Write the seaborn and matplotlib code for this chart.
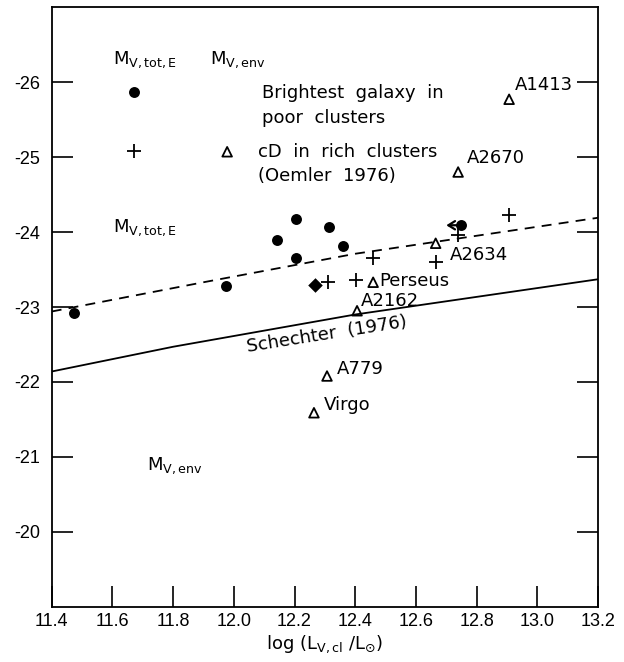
import matplotlib
matplotlib.use("Agg")
import matplotlib.pyplot as plt
import seaborn as sns

# Brightest galaxies in poor clusters (filled circles, M_V,tot,E)
poor_logL = [11.474, 11.973, 12.143, 12.204, 12.204, 12.315, 12.361, 12.748]
poor_M = [-22.92, -23.28, -23.89, -23.65, -24.18, -24.07, -23.82, -24.09]

# Environment magnitudes for poor clusters (plus signs, M_V,env)
env_logL = [12.309, 12.403, 12.459, 12.665, 12.740, 12.908]
env_M = [-23.33, -23.36, -23.65, -23.60, -23.96, -24.23]

# Special object (diamond)
diamond_logL = [12.268]
diamond_M = [-23.29]

# Upper-limit arrow on the brightest poor-cluster galaxy
limit_from = (12.748, -24.09)
limit_to = (12.700, -24.09)

# cD galaxies in rich clusters (Oemler 1976)
cd_names = ["A1413", "A2670", "A2634", "Perseus", "A2162", "A779", "Virgo"]
cd_logL = [12.907, 12.739, 12.665, 12.459, 12.406, 12.307, 12.264]
cd_M = [-25.77, -24.80, -23.85, -23.33, -22.95, -22.08, -21.59]
cd_label_xy = [(12.925, -25.96), (12.768, -24.99), (12.712, -23.69),
               (12.480, -23.35), (12.420, -23.08), (12.340, -22.17),
               (12.295, -21.69)]

# Relations: dashed curve and Schechter (1976)
dashed_logL = [11.4, 11.9, 12.4, 13.2]
dashed_M = [-22.94, -23.33, -23.71, -24.19]
schechter_logL = [11.4, 11.8, 12.4, 13.2]
schechter_M = [-22.14, -22.47, -22.90, -23.37]

x_ticks = [11.4, 11.6, 11.8, 12.0, 12.2, 12.4, 12.6, 12.8, 13.0, 13.2]
x_tick_labels = ["11.4", "11.6", "11.8", "12.0", "12.2", "12.4", "12.6",
                 "12.8", "13.0", "13.2"]
y_ticks = [-26, -25, -24, -23, -22, -21, -20]
y_tick_labels = ["-26", "-25", "-24", "-23", "-22", "-21", "-20"]

sns.set_theme(style="white")
plt.rcParams["font.family"] = ["DejaVu Sans"]
plt.rcParams["mathtext.default"] = "regular"
plt.rcParams["axes.unicode_minus"] = False
for key in ["text.color", "axes.labelcolor", "xtick.color", "ytick.color",
            "axes.edgecolor"]:
    plt.rcParams[key] = "black"

fig = plt.figure(figsize=(6.24, 6.62), dpi=100)
ax = fig.add_axes([0.0829, 0.0831, 0.8755, 0.9063])

# Relations
sns.lineplot(x=dashed_logL, y=dashed_M, color="black", linewidth=1.3,
             linestyle=(0, (5.5, 4)), ax=ax)
sns.lineplot(x=schechter_logL, y=schechter_M, color="black", linewidth=1.3,
             ax=ax)

# Data points
sns.scatterplot(x=poor_logL, y=poor_M, marker="o", s=62, color="black",
                edgecolor="black", linewidth=0, ax=ax, zorder=3)
sns.scatterplot(x=env_logL, y=env_M, marker="+", s=95, color="black",
                linewidth=1.3, ax=ax, zorder=3)
sns.scatterplot(x=diamond_logL, y=diamond_M, marker="D", s=55, color="black",
                edgecolor="black", linewidth=0, ax=ax, zorder=3)
sns.scatterplot(x=cd_logL, y=cd_M, marker="^", s=48, color="black",
                facecolor="none", edgecolor="black", linewidth=1.3, ax=ax,
                zorder=3)

ax.annotate("", xy=limit_to, xytext=limit_from, zorder=4,
            arrowprops=dict(arrowstyle="->,head_length=0.4,head_width=0.25",
                            color="black", lw=1.6, shrinkA=0, shrinkB=0))

for name, (tx, ty) in zip(cd_names, cd_label_xy):
    ax.text(tx, ty, name, fontsize=13, ha="left", va="center")

# Key
txt = dict(fontsize=13, ha="left", va="center")
ax.text(11.602, -26.30, r"M$_{V,tot,E}$", **txt)
ax.text(11.922, -26.30, r"M$_{V,env}$", **txt)
ax.scatter([11.672], [-25.87], marker="o", s=62, color="black", linewidth=0)
ax.scatter([11.672], [-25.08], marker="+", s=95, color="black", linewidth=1.3)
ax.scatter([11.978], [-25.07], marker="^", s=48, facecolor="none",
           edgecolor="black", linewidth=1.3)
ax.text(12.093, -25.85, "Brightest  galaxy  in", **txt)
ax.text(12.093, -25.52, "poor  clusters", **txt)
ax.text(12.080, -25.07, "cD  in  rich  clusters", **txt)
ax.text(12.080, -24.75, "(Oemler  1976)", **txt)
ax.text(11.602, -24.06, r"M$_{V,tot,E}$", **txt)
ax.text(11.714, -20.88, r"M$_{V,env}$", **txt)
ax.text(12.308, -22.63, "Schechter  (1976)", fontsize=13, ha="center",
        va="center", rotation=9, rotation_mode="anchor")

ax.set_xlim(11.4, 13.2)
ax.set_ylim(-19, -27)
ax.set_xticks(x_ticks)
ax.set_xticklabels(x_tick_labels, fontsize=13, family="Liberation Sans")
ax.set_yticks(y_ticks)
ax.set_yticklabels(y_tick_labels, fontsize=13, family="Liberation Sans")
ax.tick_params(axis="x", direction="in", length=15, width=1.2, bottom=True,
               top=False, pad=4)
ax.tick_params(axis="y", direction="in", length=15, width=1.2, left=True,
               right=True, pad=8)
for sp in ax.spines.values():
    sp.set_linewidth(1.3)
    sp.set_color("black")
ax.set_xlabel(r"log (L$_{V,cl}$ /L$_{\odot}$)", fontsize=13, labelpad=3)
ax.set_ylabel("")

fig.savefig("out.png", dpi=100)
